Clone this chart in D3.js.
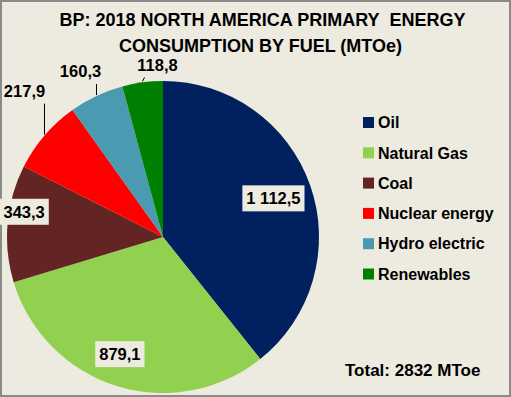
<!DOCTYPE html>
<html>
<head>
<meta charset="utf-8">
<script src="https://cdn.jsdelivr.net/npm/d3@7"></script>
<style>
  body { margin: 0; background: #fff; }
  text { font-family: "Liberation Sans", Arial, sans-serif; font-weight: bold; fill: #000; }
</style>
</head>
<body>
<script>
// data
var categories = ["Oil", "Natural Gas", "Coal", "Nuclear energy", "Hydro electric", "Renewables"];
var values = [1112.5, 879.1, 343.3, 217.9, 160.3, 118.8];
var colors = ["#002060", "#92D050", "#632523", "#FF0000", "#4A9AB1", "#008000"];
var titleLines = ["BP: 2018 NORTH AMERICA PRIMARY\u00a0 ENERGY", "CONSUMPTION BY FUEL (MTOe)"];
var totalText = "Total: 2832 MToe";

var width = 511, height = 397,
    cx = 163, cy = 237,
    radius = 156,
    bg = "#EDEADF";

// european number format: "1 112,5"
var fmt = d3.formatLocale({decimal: ",", thousands: "\u00a0", grouping: [3], currency: ["", ""]}).format(",.1f");

var svg = d3.select("body").append("svg")
    .attr("width", width)
    .attr("height", height);

// background + border
svg.append("rect")
    .attr("x", 1).attr("y", 1)
    .attr("width", width - 2).attr("height", height - 2)
    .attr("fill", bg)
    .attr("stroke", "#8a8a8a")
    .attr("stroke-width", 2);

// title
svg.selectAll(".title")
    .data(titleLines)
  .enter().append("text")
    .attr("class", "title")
    .attr("x", function(d, i) { return i == 0 ? 262.5 : 260.5; })
    .attr("y", function(d, i) { return 26 + i * 26; })
    .attr("text-anchor", "middle")
    .style("font-size", "18px")
    .text(function(d) { return d; });

// pie
var pie = d3.pie()
    .sort(null)
    .value(function(d) { return d; });

var arc = d3.arc()
    .outerRadius(radius)
    .innerRadius(0);

var arcs = pie(values);

var g = svg.append("g")
    .attr("transform", "translate(" + cx + "," + cy + ")");

g.selectAll(".slice")
    .data(arcs)
  .enter().append("path")
    .attr("class", "slice")
    .attr("d", arc)
    .attr("fill", function(d, i) { return colors[i]; });

// label placement (inside slices use a radius factor, outside ones a leader line)
var place = [
  {r: 0.75, dx: 0, dy: 0},
  {r: 0.80, dx: -6, dy: -2},
  {r: 0.90, dx: 1, dy: -13},
  {out: true, line: [0, -31], tdx: -20, tdy: -13},
  {out: true, line: [0, -11], tdx: -16, tdy: -13},
  {out: true, line: [2, -4], tdx: 13, tdy: -12}
];

function pointAt(d, r) {
  var a = (d.startAngle + d.endAngle) / 2;
  return [Math.sin(a) * r, -Math.cos(a) * r];
}

var labels = g.selectAll(".lab")
    .data(arcs)
  .enter().append("g")
    .attr("class", "lab");

labels.each(function(d, i) {
  var sel = d3.select(this), p = place[i], x, y;
  if (!p.out) {
    var c = pointAt(d, radius * p.r);
    x = c[0] + p.dx; y = c[1] + p.dy;
  } else {
    var e = pointAt(d, radius + 1);
    e[0] = Math.round(e[0]) + 0.5;
    var lx = e[0] + p.line[0], ly = e[1] + p.line[1];
    sel.append("line")
        .attr("x1", e[0]).attr("y1", e[1])
        .attr("x2", lx).attr("y2", ly)
        .attr("stroke", "#000").attr("stroke-width", 1);
    x = lx + p.tdx; y = ly + p.tdy;
  }
  var t = sel.append("text")
      .attr("x", x).attr("y", y)
      .attr("text-anchor", "middle")
      .attr("dy", "0.36em")
      .style("font-size", "16.5px")
      .text(fmt(d.data));
  if (!p.out) {
    var w = t.node().getComputedTextLength();
    sel.insert("rect", "text")
        .attr("x", x - w / 2 - 4).attr("y", y - 13)
        .attr("width", w + 8).attr("height", 26)
        .attr("fill", bg);
  }
});

// legend
var legend = svg.selectAll(".legend")
    .data(categories)
  .enter().append("g")
    .attr("class", "legend")
    .attr("transform", function(d, i) { return "translate(363," + (122.5 + i * 30.3) + ")"; });

legend.append("rect")
    .attr("x", 0).attr("y", -5.5)
    .attr("width", 11).attr("height", 11)
    .attr("fill", function(d, i) { return colors[i]; });

legend.append("text")
    .attr("x", 15)
    .attr("y", 0)
    .attr("dy", "0.36em")
    .style("font-size", "16px")
    .text(function(d) { return d; });

// total
svg.append("text")
    .attr("x", 345)
    .attr("y", 376)
    .style("font-size", "17px")
    .text(totalText);
</script>
</body>
</html>
